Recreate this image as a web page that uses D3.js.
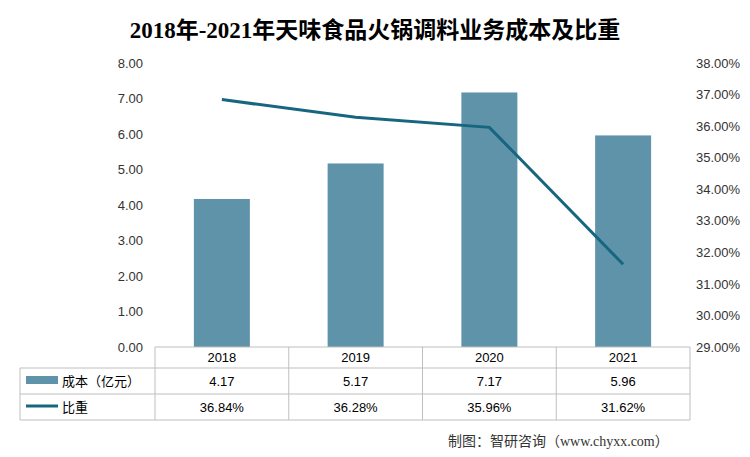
<!DOCTYPE html>
<html><head><meta charset="utf-8">
<script src="https://cdn.jsdelivr.net/npm/d3@7"></script>
<style>body{margin:0;background:#fff;}text{font-family:"Liberation Serif","Noto Sans CJK SC",serif;}</style>
</head><body><svg id="c" width="750" height="457"></svg>
<script>
const years = ["2018", "2019", "2020", "2021"];
const cost = [4.17, 5.17, 7.17, 5.96];
const share = [36.84, 36.28, 35.96, 31.62];
const leftTicks = d3.range(0, 8.01, 1);
const rightTicks = d3.range(29, 38.01, 1);

const svg = d3.select("#c");
const x0 = 155, x1 = 690, yTop = 63, yBot = 347;
const x = d3.scaleBand().domain(years).range([x0, x1]);
const yL = d3.scaleLinear().domain([0, 8]).range([yBot, yTop]);
const yR = d3.scaleLinear().domain([29, 38]).range([yBot, yTop]);
const barColor = "#5f93aa", lineColor = "#17667f", grid = "#bfbfbf";

svg.append("text").attr("x", 375).attr("y", 38).attr("text-anchor", "middle")
  .style("font-size", "23px").style("font-weight", "bold").text("2018年-2021年天味食品火锅调料业务成本及比重");

svg.append("g").attr("transform", `translate(${x0},0)`)
  .call(d3.axisLeft(yL).tickValues(leftTicks).tickFormat(d3.format(".2f")).tickSize(0).tickPadding(12))
  .call(g => g.select(".domain").remove())
  .selectAll("text").style("font-size", "13px").style("font-family", "Liberation Sans, sans-serif").attr("fill", "#333");
svg.append("g").attr("transform", `translate(${x1},0)`)
  .call(d3.axisRight(yR).tickValues(rightTicks).tickFormat(d => d.toFixed(2) + "%").tickSize(0).tickPadding(6))
  .call(g => g.select(".domain").remove())
  .selectAll("text").style("font-size", "13px").style("font-family", "Liberation Sans, sans-serif").attr("fill", "#333");

const bw = 56;
svg.selectAll("rect.bar").data(cost).enter().append("rect").attr("class", "bar")
  .attr("x", (d, i) => x(years[i]) + x.bandwidth() / 2 - bw / 2).attr("width", bw)
  .attr("y", d => yL(d)).attr("height", d => yBot - yL(d)).attr("fill", barColor);

svg.append("path").datum(share)
  .attr("d", d3.line().x((d, i) => x(years[i]) + x.bandwidth() / 2).y(d => yR(d)))
  .attr("fill", "none").attr("stroke", lineColor).attr("stroke-width", 3);

// data table
const rows = [yBot, 368, 394, 420];
const tl = 20;
const t = svg.append("g").attr("stroke", grid).attr("stroke-width", 1);
t.append("line").attr("x1", x0).attr("x2", x1).attr("y1", yBot).attr("y2", yBot);
rows.slice(1).forEach(r => t.append("line").attr("x1", tl).attr("x2", x1).attr("y1", r).attr("y2", r));
x.domain().concat(["end"]).forEach((d, i) => {
  const xx = i < years.length ? x(d) : x1;
  t.append("line").attr("x1", xx).attr("x2", xx).attr("y1", yBot).attr("y2", rows[3]);
});
t.append("line").attr("x1", tl).attr("x2", tl).attr("y1", rows[1]).attr("y2", rows[3]);

const fs = "13px";
svg.selectAll("text.yr").data(years).enter().append("text").attr("class", "yr")
  .attr("x", d => x(d) + x.bandwidth() / 2).attr("y", 362).attr("text-anchor", "middle")
  .style("font-size", fs).style("font-family", "Liberation Sans, sans-serif").text(d => d);
svg.selectAll("text.cv").data(cost).enter().append("text").attr("class", "cv")
  .attr("x", (d, i) => x(years[i]) + x.bandwidth() / 2).attr("y", 386).attr("text-anchor", "middle")
  .style("font-size", fs).style("font-family", "Liberation Sans, sans-serif").text(d => d.toFixed(2));
svg.selectAll("text.sv").data(share).enter().append("text").attr("class", "sv")
  .attr("x", (d, i) => x(years[i]) + x.bandwidth() / 2).attr("y", 412).attr("text-anchor", "middle")
  .style("font-size", fs).style("font-family", "Liberation Sans, sans-serif").text(d => d.toFixed(2) + "%");

svg.append("rect").attr("x", 26).attr("y", 376).attr("width", 32).attr("height", 8).attr("fill", barColor);
svg.append("text").attr("x", 62).attr("y", 386).style("font-size", fs).text("成本（亿元）");
svg.append("line").attr("x1", 26).attr("x2", 58).attr("y1", 406).attr("y2", 406).attr("stroke", lineColor).attr("stroke-width", 3);
svg.append("text").attr("x", 62).attr("y", 412).style("font-size", fs).text("比重");

svg.append("text").attr("x", 448).attr("y", 446).style("font-size", "14px").attr("fill", "#333")
  .text("制图：智研咨询（www.chyxx.com）");
</script></body></html>
